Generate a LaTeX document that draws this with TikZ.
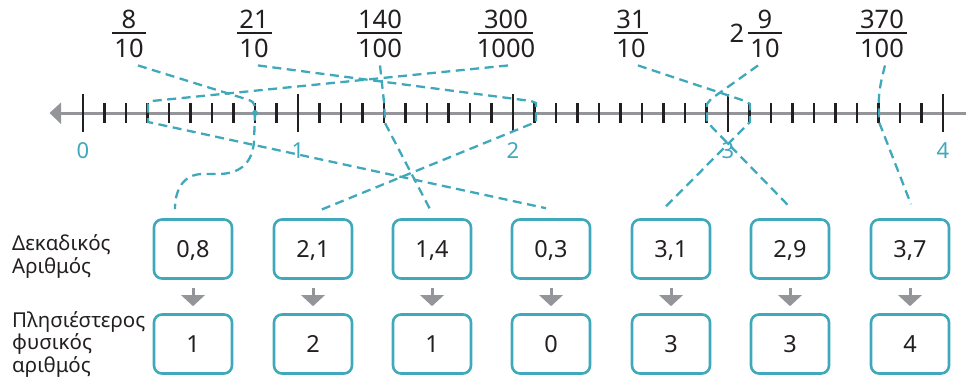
\documentclass[tikz,border=0pt]{standalone}
\usepackage{fontspec}
\setmainfont{Noto Sans}
\usetikzlibrary{calc,arrows.meta}
\definecolor{ink}{RGB}{35,31,32}
\definecolor{axisgray}{RGB}{147,149,152}
\definecolor{linkteal}{RGB}{64,168,187}
\begin{document}
\begin{tikzpicture}[x=1pt,y=-1pt,
  axisline/.style={draw=axisgray,line width=3pt},
  tickmark/.style={draw=ink,line width=2.2pt},
  ticklabel/.style={anchor=base,inner sep=0pt,text=linkteal,font=\fontsize{22}{22}\selectfont\bfseries},
  fracnum/.style={anchor=base,inner sep=0pt,text=ink,font=\fontsize{25.5}{25.5}\selectfont},
  fracbar/.style={draw=ink,line width=2pt},
  guide/.style={draw=linkteal,line width=2.3pt,dash pattern=on 9pt off 5.5pt},
  valbox/.style={draw=linkteal,line width=2.6pt,rounded corners=8pt,
    minimum width=78pt,minimum height=59pt,inner sep=0pt,
    text height=16pt,text depth=0pt,text=ink,font=\fontsize{23.5}{23.5}\selectfont},
  steparrow/.style={draw=axisgray,line width=3pt,-{Triangle[width=23pt,length=11pt]}},
  rowlabel/.style={anchor=base west,inner sep=0pt,text=ink,font=\fontsize{20.5}{20.5}\selectfont}
]
\useasboundingbox (0,0) rectangle (966,380);

% number line
\coordinate (tip) at (49.5,113);
\coordinate (lineend) at (966,113);
\draw[axisline] (60,113) -- (lineend);
\fill[axisgray] (tip) -- (61,102.5) -- (61,124) -- cycle;
\foreach \i in {0,...,40}{
  \pgfmathsetmacro\tx{83+21.5*\i}
  \draw[tickmark] (\tx,103) -- (\tx,123);
}
\foreach \k in {0,...,4}{
  \pgfmathsetmacro\tx{83+215*\k}
  \draw[tickmark] (\tx,94) -- (\tx,132);
  \node[ticklabel] (t\k) at (\tx,158) {\k};
}

% fractions
\node[fracnum] (n1) at (129,28) {8};   \node[fracnum] (d1) at (129,57) {10};
\draw[fracbar] (112,33) -- (146,33);
\node[fracnum] (n2) at (254,28) {21};  \node[fracnum] (d2) at (254,57) {10};
\draw[fracbar] (237,33) -- (272,33);
\node[fracnum] (n3) at (380,28) {140}; \node[fracnum] (d3) at (380,57) {100};
\draw[fracbar] (357,33) -- (402,33);
\node[fracnum] (n4) at (506,28) {300}; \node[fracnum] (d4) at (506,57) {1000};
\draw[fracbar] (478,33) -- (533,33);
\node[fracnum] (n5) at (631,28) {31};  \node[fracnum] (d5) at (631,57) {10};
\draw[fracbar] (614,33) -- (648,33);
\node[fracnum] (w6) at (737,42) {2};
\node[fracnum] (n6) at (765,28) {9};   \node[fracnum] (d6) at (765,57) {10};
\draw[fracbar] (748,33) -- (782,33);
\node[fracnum] (n7) at (882,28) {370}; \node[fracnum] (d7) at (882,57) {100};
\draw[fracbar] (856,33) -- (907,33);

% decimal boxes and nearest whole numbers
\foreach \x/\dec/\nat [count=\c] in {193/{0,8}/1, 313/{2,1}/2, 432/{1,4}/1, 551/{0,3}/0, 671/{3,1}/3, 790/{2,9}/3, 910/{3,7}/4}{
  \node[valbox] (b\c) at (\x,249) {\dec};
  \node[valbox] (r\c) at (\x,344) {\nat};
  \draw[steparrow] ($(b\c.south)+(0,8)$) -- ($(r\c.north)+(0,-7)$);
}

% row labels
\node[rowlabel] (la) at (12,250) {Δεκαδικός};
\node[rowlabel] (lb) at (12,273.5) {Αριθμός};
\node[rowlabel] (lc) at (12,327) {Πλησιέστερος};
\node[rowlabel] (ld) at (12,349.5) {φυσικός};
\node[rowlabel] (le) at (12,372) {αριθμός};

% dashed guides from each fraction through the line to its box
\fill[linkteal] (255,113) circle (3);
\draw[guide] ($(d1.south)+(9,8)$) -- (249,100) .. controls (255,102) and (255,106) .. (255,113)
  -- (254,142) .. controls (252,165) and (238,174) .. (218,174) -- (203,174)
  .. controls (183,174) and (175,190) .. ($(b1.north)+(-18,-9)$);
\draw[guide] ($(d2.south)+(4,8)$) -- (531,101) -- (536,103) -- (536,122) -- ($(b2.north)+(7,-8)$);
\draw[guide] ($(d3.south)+(0,8)$) -- (384,102) -- (385,123) -- ($(b3.north)+(-2,-9)$);
\draw[guide] ($(d4.south)+(2,8)$) -- (152,101) -- (148,104) -- (148,122) -- ($(b4.north)+(-5,-10)$);
\draw[guide] ($(d5.south)+(7,8)$) -- (745,101) -- (750,104) -- (750,122) -- ($(b5.north)+(-6,-11)$);
\draw[guide] ($(d6.south)+(-7,8)$) -- (711,99) -- (707,104) -- (707,122) -- ($(b6.north)+(-2,-13)$);
\draw[guide] ($(d7.south)+(3,8)$) .. controls (880,85) and (878,95) .. (879,110) -- (879,122)
  -- ($(b7.north)+(1,-14)$);
\end{tikzpicture}
\end{document}
